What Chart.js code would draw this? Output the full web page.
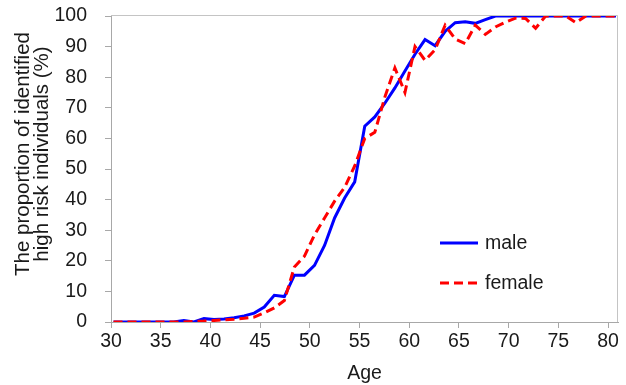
<!DOCTYPE html>
<html>
<head>
<meta charset="utf-8">
<script src="https://cdn.jsdelivr.net/npm/chart.js@4/dist/chart.umd.min.js"></script>
<style>
  html, body { margin: 0; padding: 0; background: #ffffff; }
  #wrap { width: 626px; height: 385px; }
</style>
</head>
<body>
<div id="wrap"><canvas id="c" width="626" height="385"></canvas></div>
<script>
// ---- data ----
const ages = [30,31,32,33,34,35,36,37,38,39,40,41,42,43,44,45,46,47,48,49,50,51,52,53,54,55,56,57,58,59,60,61,62,63,64,65,66,67,68,69,70,71,72,73,74,75,76,77,78,79,80];
const male = [0,0,0,0,0,0,0,0.5,0,1.1,0.8,1.0,1.4,2.0,2.9,4.9,8.7,8.3,15.3,15.3,18.5,25,34,40.5,45.8,64,67,71.5,76.5,82,87.5,92.3,90.3,95,97.8,98.1,97.6,98.8,100,100,100,100,100,100,100,100,100,100,100,100,100];
const female = [0,0,0,0,0,0,0,0,0.2,0.3,0.5,0.7,0.9,1.2,1.6,3.0,4.6,7,18,21.5,28.5,34,39.5,44,51,60,62,73.5,83,75,90,85.5,89,97,92.5,91,97,94,96.4,98,99.3,99.2,96,100,100,100,97.8,100,100,100,100];
const seriesNames = ['male', 'female'];
const xTickValues = [30,35,40,45,50,55,60,65,70,75,80];
const yTickValues = [0,10,20,30,40,50,60,70,80,90,100];
const xTitle = 'Age';
const yTitleLines = ['The proportion of identified', 'high risk individuals (%)'];

// ---- style ----
const FONT = '"Liberation Sans", Arial, sans-serif';
const AXIS_GRAY = '#a8a8a8';
const TEXT = '#1a1a1a';

const frame = {
  id: 'frame',
  beforeDatasetsDraw(chart) {
    const {ctx, chartArea: a} = chart;
    ctx.save();
    ctx.strokeStyle = '#c4c4c4';
    ctx.lineWidth = 1;
    ctx.beginPath();
    ctx.moveTo(a.left, Math.round(a.top) - 0.5);
    ctx.lineTo(Math.round(a.right) - 0.5, Math.round(a.top) - 0.5);
    ctx.lineTo(Math.round(a.right) - 0.5, a.bottom);
    ctx.stroke();
    ctx.restore();
  }
};

const yTitle = {
  id: 'yTitle',
  afterDraw(chart, args, opts) {
    const {ctx} = chart;
    ctx.save();
    ctx.fillStyle = TEXT;
    ctx.font = opts.size + 'px ' + FONT;
    ctx.textAlign = 'center';
    ctx.textBaseline = 'middle';
    opts.lines.forEach((t, i) => {
      ctx.save();
      ctx.translate(opts.x + i * opts.lineGap, opts.y);
      ctx.rotate(-Math.PI / 2);
      ctx.fillText(t, 0, 0);
      ctx.restore();
    });
    ctx.restore();
  }
};

const inLegend = {
  id: 'inLegend',
  afterDraw(chart, args, opts) {
    const {ctx} = chart;
    ctx.save();
    chart.data.datasets.forEach((ds, i) => {
      const y = opts.y + i * opts.gap;
      ctx.strokeStyle = ds.borderColor;
      ctx.lineWidth = ds.borderWidth;
      ctx.setLineDash(ds.borderDash || []);
      ctx.beginPath();
      ctx.moveTo(opts.x, y);
      ctx.lineTo(opts.x + opts.len, y);
      ctx.stroke();
      ctx.setLineDash([]);
      ctx.fillStyle = TEXT;
      ctx.font = opts.size + 'px ' + FONT;
      ctx.textAlign = 'left';
      ctx.textBaseline = 'middle';
      ctx.fillText(ds.label, opts.x + opts.len + 7, y + 1);
    });
    ctx.restore();
  }
};

new Chart(document.getElementById('c'), {
  type: 'line',
  data: {
    datasets: [
      {
        label: seriesNames[0],
        data: ages.map((a, i) => ({x: a, y: male[i]})),
        xAxisID: 'xd',
        borderColor: '#0000ff',
        backgroundColor: '#0000ff',
        borderWidth: 3,
        pointRadius: 0,
        tension: 0,
        order: 2
      },
      {
        label: seriesNames[1],
        data: ages.map((a, i) => ({x: a, y: female[i]})),
        xAxisID: 'xd',
        borderColor: '#ff0000',
        backgroundColor: '#ff0000',
        borderWidth: 3,
        borderDash: [9, 5],
        pointRadius: 0,
        tension: 0,
        order: 1
      }
    ]
  },
  options: {
    responsive: false,
    animation: false,
    devicePixelRatio: 1,
    layout: { padding: { top: 16, right: 8, left: 0, bottom: 0 } },
    plugins: {
      legend: { display: false },
      tooltip: { enabled: false },
      yTitle: { lines: yTitleLines, x: 23, y: 154, lineGap: 19, size: 20.5 },
      inLegend: { x: 440, y: 243, gap: 40, len: 38, size: 19.5 }
    },
    scales: {
      x: {
        type: 'linear',
        position: 'bottom',
        min: 30,
        max: 81,
        afterBuildTicks: (s) => { s.ticks = xTickValues.map(v => ({value: v})); },
        afterFit: (s) => { s.height = 63; s.paddingLeft = 0; s.paddingRight = 0; s.paddingTop = 0; s.paddingBottom = 0; },
        ticks: { font: { family: FONT, size: 19.5 }, color: TEXT, padding: 2, maxRotation: 0, autoSkip: false },
        grid: { display: true, drawOnChartArea: false, drawTicks: true, tickLength: 6, color: AXIS_GRAY },
        border: { display: true, color: AXIS_GRAY, width: 1 },
        title: { display: true, text: xTitle, font: { family: FONT, size: 19.5 }, color: TEXT, padding: { top: 0, bottom: 0 } }
      },
      xd: {
        type: 'linear',
        display: false,
        min: 29.751,
        max: 80.199
      },
      y: {
        type: 'linear',
        min: 0,
        max: 100,
        afterBuildTicks: (s) => { s.ticks = yTickValues.map(v => ({value: v})); },
        afterFit: (s) => { s.width = 111; s.paddingTop = 0; s.paddingBottom = 0; s.paddingLeft = 0; s.paddingRight = 0; },
        ticks: { font: { family: FONT, size: 19.5 }, color: TEXT, padding: 18 },
        grid: { display: true, drawOnChartArea: false, drawTicks: true, tickLength: 6, color: AXIS_GRAY },
        border: { display: true, color: AXIS_GRAY, width: 1 }
      }
    }
  },
  plugins: [frame, yTitle, inLegend]
});
</script>
</body>
</html>
